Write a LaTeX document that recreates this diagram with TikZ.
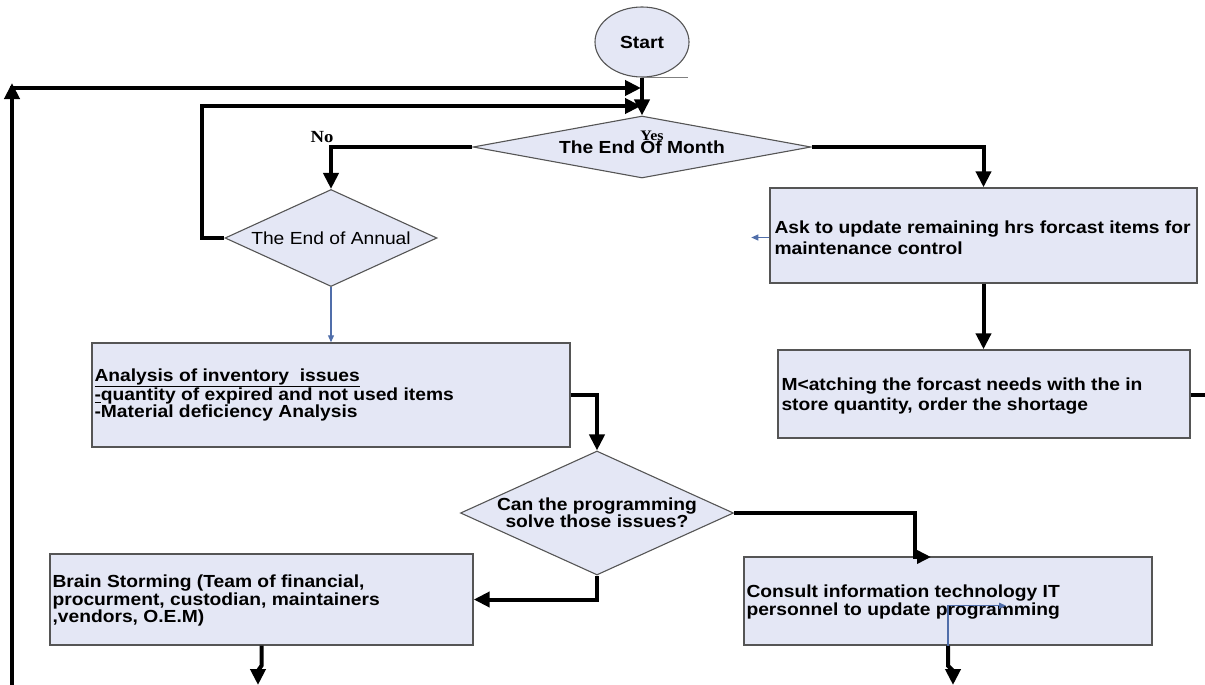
\documentclass[tikz,border=0pt]{standalone}
\usepackage{fontspec}
\setmainfont{Liberation Sans}[FakeStretch=1.1]
\newfontfamily\serifbold{Liberation Serif}[FakeStretch=1.1]
\usetikzlibrary{shapes.geometric,arrows.meta,calc}

\definecolor{boxfill}{RGB}{228,231,245}
\definecolor{boxline}{RGB}{85,85,85}
\definecolor{thinblue}{RGB}{80,110,170}

\newcommand\txtwide{\fontsize{17.5}{20.5}\selectfont\bfseries}
\newcommand\txttight{\fontsize{17.5}{17.3}\selectfont\bfseries}
\newcommand\txtplain{\fontsize{17.5}{20}\selectfont}
\newcommand\nolabel{\fontsize{17}{17}\selectfont\serifbold\bfseries}
\newcommand\yeslabel{\fontsize{14.5}{15}\selectfont\serifbold\bfseries}

\begin{document}
\begin{tikzpicture}[x=1pt,y=-1pt,
  procbox/.style={rectangle, draw=boxline, fill=boxfill, line width=1.4pt, inner sep=0pt},
  decision/.style={diamond, draw=boxline, fill=boxfill, line width=1.1pt, inner sep=0pt},
  terminal/.style={ellipse, draw=boxline, fill=boxfill, line width=1.1pt, inner sep=0pt},
  boxtext/.style={anchor=west, align=left, inner sep=0pt},
  flow/.style={line width=4pt, -{Triangle[length=16pt,width=15pt]}},
  flowline/.style={line width=4pt},
  thinflow/.style={line width=1.1pt, draw=thinblue, -{Triangle[length=7pt,width=6pt]}}
]
\useasboundingbox (0,0) rectangle (1205,685);

% terminal and decisions
\node[terminal, minimum width=94, minimum height=70, font=\txtwide] (start) at (642,42) {Start};
\node[decision, minimum width=338, minimum height=62] (month) at (642,147) {};
\node[font=\txtwide] (monthtxt) at (642,147) {The End Of Month};
\node[decision, minimum width=212, minimum height=97] (annual) at (331,238) {};
\node[font=\txtplain] (annualtxt) at (331,238) {The End of Annual};
\node[decision, minimum width=273, minimum height=124] (can) at (597,513) {};
\node[font=\txttight, align=center] (cantxt) at (597,513) {Can the programming\\solve those issues?};

% branch labels
\node[font=\yeslabel] (yes) at (652,136) {Yes};
\node[font=\nolabel] (no) at (322,137) {No};

% process boxes
\node[procbox, minimum width=427, minimum height=95] (ask) at (983.5,235.5) {};
\node[procbox, minimum width=412, minimum height=88] (match) at (984,394) {};
\node[procbox, minimum width=478, minimum height=104] (anal) at (331,395) {};
\node[procbox, minimum width=423, minimum height=91] (brain) at (261.5,599.5) {};
\node[procbox, minimum width=408, minimum height=88] (consult) at (948,601) {};

\node[boxtext, font=\txtwide] (asktxt) at ($(ask.west)+(5,2)$)
  {Ask to update remaining hrs forcast items for\\maintenance control};
\node[boxtext, font=\txtwide] (matchtxt) at ($(match.west)+(4,2)$)
  {M<atching the forcast needs with the in\\store quantity, order the shortage};
\node[boxtext, font=\txttight] (analtxt) at ($(anal.west)+(3,0)$)
  {\underline{Analysis of inventory\ \ issues}\\\underline{-}quantity of expired and not used items\\-Material deficiency Analysis};
\node[boxtext, font=\txttight] (braintxt) at ($(brain.west)+(3,1)$)
  {Brain Storming (Team of financial,\\procurment, custodian, maintainers\\,vendors, O.E.M)};
\node[boxtext, font=\txttight] (consulttxt) at ($(consult.west)+(3,1)$)
  {Consult information technology IT\\personnel to update programming};

% free ends of connectors
\coordinate (loopfoot) at (12,685);
\coordinate (looptop) at (12,83);
\coordinate (loopstart) at (10,88);
\coordinate (join1) at (641,88);
\coordinate (join2) at (641,106);
\coordinate (matchout) at (1205,395);
\coordinate (consulttip) at (931,557);
\coordinate (brainout) at (258,685);
\coordinate (consultout) at (953,685);

% connectors
\draw[line width=0.8pt, draw=gray] (start.south) -- ++(46,0);
\draw[flow] (start.south) -- (month.north);
\draw[flow] (loopfoot) -- (looptop);
\draw[flow] (loopstart) -- (join1);
\draw[flow] (annual.west) -- ++(-22,0) |- (join2);
\draw[flow] (month.west) -| (annual.north);
\draw[flow] (month.east) -| (ask.north);
\draw[flow] (ask.south) -- (ask.south |- match.north);
\draw[flowline] (match.east |- matchout) -- (matchout);
\draw[thinflow] (annual.south) -- (anal.north);
\draw[thinflow] ($(ask.west)+(0,2)$) -- ++(-18,0);
\draw[flow] (anal.east) -| (can.north);
\draw[line width=4pt, -{Triangle[length=14pt,width=13pt]}] (can.east) -| ([xshift=-16pt]consulttip) -- (consulttip);
\draw[flow] (can.south) |- (brain.east);
\draw[flow] (brain.south) -- ++(0,20) -- ++(-3.5,5) -- (brainout);
\draw[flow] (consult.south) -- ++(0,20) -- ++(5,5) -- (consultout);
\draw[thinflow] (consult.south) -- ++(0,-40) -- ++(58,0);
\end{tikzpicture}
\end{document}
